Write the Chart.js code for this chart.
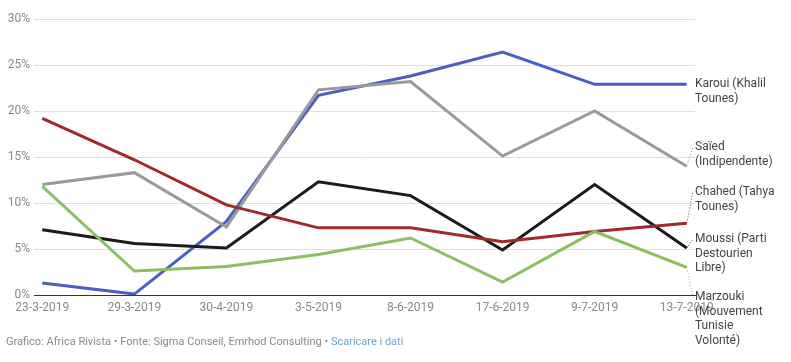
<!DOCTYPE html>
<html>
<head>
<meta charset="utf-8">
<script src="https://cdn.jsdelivr.net/npm/chart.js@4"></script>
<style>
  html, body { margin: 0; padding: 0; background: #fff; }
  #wrap { position: relative; width: 791px; height: 362px; }
</style>
</head>
<body>
<div id="wrap"><canvas id="sondaggiChart"></canvas></div>
<script>
// dati
const dates = ['23-3-2019', '29-3-2019', '30-4-2019', '3-5-2019', '8-6-2019', '17-6-2019', '9-7-2019', '13-7-2019'];
const karoui = [1.3, 0.1, 8.0, 21.7, 23.8, 26.4, 22.9, 22.9];
const saied = [12.0, 13.3, 7.4, 22.3, 23.2, 15.1, 20.0, 14.0];
const chahed = [19.2, 14.7, 9.8, 7.3, 7.3, 5.8, 6.9, 7.8];
const moussi = [7.1, 5.6, 5.1, 12.3, 10.8, 4.9, 12.0, 5.1];
const marzouki = [11.8, 2.6, 3.1, 4.4, 6.2, 1.4, 6.9, 3.0];
const yTicks = [0, 5, 10, 15, 20, 25, 30];

const series = [
  { name: ['Marzouki', '(Mouvement', 'Tunisie', 'Volonté)'], data: marzouki, color: '#8dbf62', labelTop: 290 },
  { name: ['Chahed (Tahya', 'Tounes)'], data: chahed, color: '#a0292b', labelTop: 185 },
  { name: ['Saïed', '(Indipendente)'], data: saied, color: '#9a9a9a', labelTop: 140 },
  { name: ['Moussi (Parti', 'Destourien', 'Libre)'], data: moussi, color: '#1b1b1b', labelTop: 232 },
  { name: ['Karoui (Khalil', 'Tounes)'], data: karoui, color: '#4a5ec4', labelTop: 77 }
];

const FONT = 'Roboto, "Noto Sans", sans-serif';

// etichette a destra + piè di pagina
const labelsPlugin = {
  id: 'labelsPlugin',
  afterDatasetsDraw(chart) {
    const c = chart.ctx;
    const xs = chart.scales.x, ys = chart.scales.y;
    const tx = chart.chartArea.right;
    c.save();
    series.forEach(s => {
      const last = s.data.length - 1;
      const px = xs.getPixelForValue(last);
      const py = ys.getPixelForValue(s.data[last]);
      const ly = s.labelTop + 7;
      if (Math.abs(ly - py) > 4) {
        c.strokeStyle = s.color;
        c.lineWidth = 1;
        c.setLineDash([1, 2]);
        c.beginPath();
        c.moveTo(px, py);
        c.lineTo(tx - 2, ly);
        c.stroke();
        c.setLineDash([]);
      }
      c.fillStyle = '#444';
      c.font = '12px ' + FONT;
      c.textBaseline = 'middle';
      c.textAlign = 'left';
      s.name.forEach((t, i) => c.fillText(t, tx, s.labelTop + 7 + i * 14.5));
    });
    // footer
    c.font = '11px ' + FONT;
    c.textBaseline = 'middle';
    const part1 = 'Grafico: Africa Rivista • Fonte: Sigma Conseil, Emrhod Consulting • ';
    c.fillStyle = '#8a8a8a';
    c.fillText(part1, 6, 342);
    c.fillStyle = '#6ea5d2';
    c.fillText('Scaricare i dati', 6 + c.measureText(part1).width, 342);
    c.restore();
  }
};

const ctx = document.getElementById('sondaggiChart').getContext('2d');
const sondaggiChart = new Chart(ctx, {
  type: 'line',
  data: {
    datasets: series.map(s => ({
      label: s.name.join(' '),
      data: s.data.map((v, i) => ({ x: i, y: v })),
      borderColor: s.color,
      backgroundColor: s.color,
      borderWidth: 3,
      pointRadius: 0,
      tension: 0
    }))
  },
  options: {
    responsive: true,
    maintainAspectRatio: false,
    animation: false,
    layout: { padding: { top: 19, right: 96, left: 0, bottom: 0 } },
    plugins: { legend: { display: false }, tooltip: { enabled: false } },
    scales: {
      x: {
        type: 'linear',
        min: -0.09,
        max: 7.09,
        afterBuildTicks: axis => { axis.ticks = dates.map((d, i) => ({ value: i })); },
        afterFit: axis => { axis.height = 67; },
        ticks: {
          callback: v => dates[v],
          color: '#8a8a8a',
          font: { family: FONT, size: 12 },
          padding: 6,
          maxRotation: 0,
          autoSkip: false
        },
        grid: { display: false, drawTicks: false },
        border: { display: true, color: '#333', width: 1 }
      },
      y: {
        min: 0,
        max: 30,
        afterBuildTicks: axis => { axis.ticks = yTicks.map(v => ({ value: v })); },
        afterFit: axis => { axis.width = 34; },
        ticks: {
          callback: v => v + '%',
          color: '#8a8a8a',
          font: { family: FONT, size: 12 },
          padding: 4
        },
        grid: {
          color: '#dedede',
          lineWidth: 1,
          drawTicks: false
        },
        border: { display: false }
      }
    }
  },
  plugins: [labelsPlugin]
});
</script>
</body>
</html>
